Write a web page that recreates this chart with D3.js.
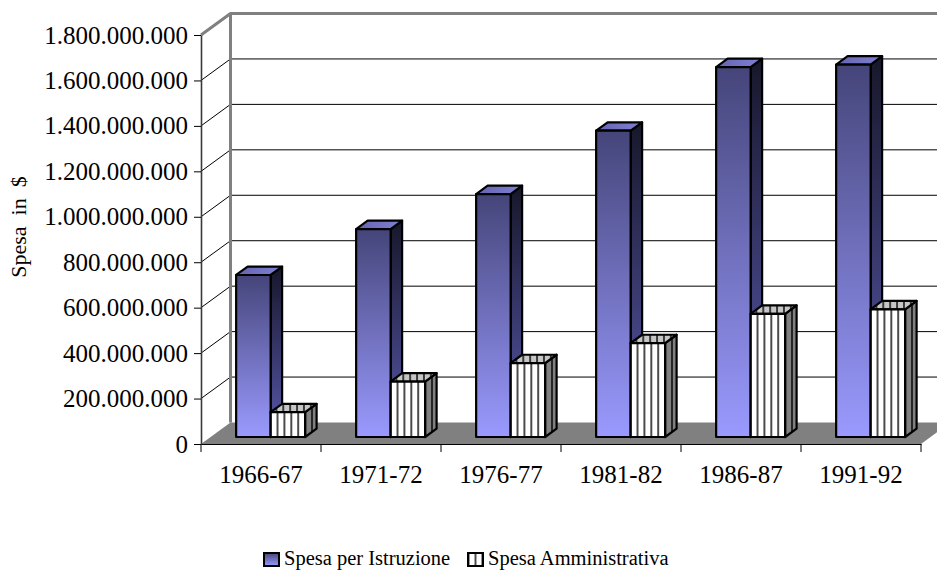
<!DOCTYPE html>
<html>
<head>
<meta charset="utf-8">
<script src="https://cdn.jsdelivr.net/npm/d3@7"></script>
<style>
  html, body { margin: 0; padding: 0; background: #fff; }
  text { font-family: "Liberation Serif", "Times New Roman", serif; fill: #000; }
</style>
</head>
<body>
<svg id="chart" width="937" height="572"></svg>
<script>
// ---- data ----
const categories = ["1966-67", "1971-72", "1976-77", "1981-82", "1986-87", "1991-92"];
const seriesNames = ["Spesa per Istruzione", "Spesa Amministrativa"];
const istruzione = [713e6, 915e6, 1069e6, 1348e6, 1628e6, 1639e6];
const amministrativa = [109e6, 244e6, 325e6, 413e6, 542e6, 562e6];
const yTickValues = [0, 2e8, 4e8, 6e8, 8e8, 1e9, 1.2e9, 1.4e9, 1.6e9, 1.8e9];
const yAxisTitle = "Spesa  in  $";

// ---- layout ----
const svg = d3.select("#chart");
const plotL = 201, plotR = 921, plotT = 35, plotB = 444;
const DX = 29.5, DY = 21.5;          // full depth of the 3-D box
const zFront = 0.326, zBack = 0.716;  // depth span occupied by the bars

const x0 = d3.scaleBand().domain(categories).range([plotL, plotR]).padding(0);
const x1 = d3.scaleBand().domain(seriesNames).range([0, x0.bandwidth()])
  .paddingInner(0).paddingOuter(0.74);
const y = d3.scaleLinear().domain([0, 1.8e9]).range([plotB, plotT]);

const itLocale = d3.formatLocale({ decimal: ",", thousands: ".", grouping: [3], currency: ["", " $"] });
const fmt = itLocale.format(",d");

// ---- defs: gradients and stripe patterns ----
const defs = svg.append("defs");
function vGrad(id, c0, c1) {
  const g = defs.append("linearGradient").attr("id", id)
    .attr("x1", 0).attr("y1", 0).attr("x2", 0).attr("y2", 1);
  g.append("stop").attr("offset", "0%").attr("stop-color", c0);
  g.append("stop").attr("offset", "100%").attr("stop-color", c1);
}
vGrad("blueFront", "#45457a", "#9a9aff");
vGrad("blueSide", "#17172a", "#5858ac");
const tg = defs.append("linearGradient").attr("id", "blueTop")
  .attr("x1", 0).attr("y1", 0).attr("x2", 1).attr("y2", 0);
tg.append("stop").attr("offset", "0%").attr("stop-color", "#6464b0");
tg.append("stop").attr("offset", "100%").attr("stop-color", "#8080d4");

const bw = x1.bandwidth();
const stripeW = bw / 5;
function stripe(id, bg, xOff) {
  const p = defs.append("pattern").attr("id", id)
    .attr("patternUnits", "userSpaceOnUse")
    .attr("x", xOff).attr("y", 0)
    .attr("width", stripeW).attr("height", 10);
  p.append("rect").attr("width", stripeW).attr("height", 10).attr("fill", bg);
  p.append("rect").attr("x", -0.7).attr("width", 1.4).attr("height", 10).attr("fill", "#000");
  p.append("rect").attr("x", stripeW - 0.7).attr("width", 1.4).attr("height", 10).attr("fill", "#000");
}
categories.forEach((c, i) => {
  const bx = x0(c) + x1(seriesNames[1]) + zFront * DX;
  stripe("wFront" + i, "#ffffff", bx);
  stripe("wTop" + i, "#c6c6c6", bx + (zBack - zFront) * DX * 0.5);
  stripe("wSide" + i, "#808080", bx + bw);
});
stripe("wLegend", "#ffffff", 468 + 7.5);

// ---- walls and gridlines ----
const walls = svg.append("g");
const innerTicks = yTickValues.filter(v => v > 0 && v < 1.8e9);
// side wall diagonals
walls.selectAll("line.diag").data(innerTicks).join("line")
  .attr("x1", plotL).attr("y1", d => y(d))
  .attr("x2", plotL + DX).attr("y2", d => y(d) - DY)
  .attr("stroke", "#000").attr("stroke-width", 1);
// back wall horizontals
walls.selectAll("line.grid").data(innerTicks).join("line")
  .attr("x1", plotL + DX).attr("y1", d => y(d) - DY)
  .attr("x2", plotR + DX).attr("y2", d => y(d) - DY)
  .attr("stroke", "#000").attr("stroke-width", 1);

// floor
svg.append("polygon")
  .attr("points", [
    [plotL, y(0)], [plotR, y(0)], [plotR + DX, y(0) - DY], [plotL + DX, y(0) - DY]
  ].map(p => p.join(",")).join(" "))
  .attr("fill", "#808080");

// wall edges
const edge = svg.append("g").attr("stroke", "#808080").attr("stroke-width", 3)
  .attr("fill", "none").attr("stroke-linejoin", "round");
edge.append("path").attr("d", d3.line()([
  [plotL, y(1.8e9)], [plotL + DX, y(1.8e9) - DY], [plotR + DX + 40, y(1.8e9) - DY]
]));
edge.append("line")
  .attr("x1", plotL + DX).attr("y1", y(1.8e9) - DY)
  .attr("x2", plotL + DX).attr("y2", y(0) - DY);

// ---- bars ----
const series = [
  { name: seriesNames[0], values: istruzione, kind: "blue" },
  { name: seriesNames[1], values: amministrativa, kind: "white" }
];
const ddx = (zBack - zFront) * DX, ddy = (zBack - zFront) * DY;
const barsG = svg.append("g").attr("stroke", "#000").attr("stroke-width", 2.2)
  .attr("stroke-linejoin", "round");

categories.forEach((c, i) => {
  series.forEach(s => {
    const v = s.values[i];
    const x = x0(c) + x1(s.name) + zFront * DX;
    const yb = y(0) - zFront * DY;
    const yt = y(v) - zFront * DY;
    const g = barsG.append("g");
    const fills = s.kind === "blue"
      ? { front: "url(#blueFront)", side: "url(#blueSide)", top: "url(#blueTop)" }
      : { front: `url(#wFront${i})`, side: `url(#wSide${i})`, top: `url(#wTop${i})` };
    g.append("polygon")
      .attr("points", [[x + bw, yt], [x + bw + ddx, yt - ddy], [x + bw + ddx, yb - ddy], [x + bw, yb]].join(" "))
      .attr("fill", fills.side);
    g.append("polygon")
      .attr("points", [[x, yt], [x + ddx, yt - ddy], [x + bw + ddx, yt - ddy], [x + bw, yt]].join(" "))
      .attr("fill", fills.top);
    g.append("rect")
      .attr("x", x).attr("y", yt).attr("width", bw).attr("height", yb - yt)
      .attr("fill", fills.front);
  });
});

// ---- axes ----
const yAxis = d3.axisLeft(y).tickValues(yTickValues).tickFormat(fmt)
  .tickSize(7).tickSizeOuter(0).tickPadding(6);
const yg = svg.append("g").attr("transform", `translate(${plotL},0)`).call(yAxis);
yg.select(".domain").attr("stroke", "#3a3a3a").attr("stroke-width", 1.6);
yg.selectAll(".tick line").attr("stroke", "#000");
yg.selectAll(".tick text").style("font-size", "25px")
  .style("font-family", '"Liberation Serif", serif');

const xAxis = d3.axisBottom(x0).tickSize(0).tickPadding(21).tickSizeOuter(0);
const xg = svg.append("g").attr("transform", `translate(0,${y(0)})`).call(xAxis);
xg.select(".domain").attr("stroke", "#000").attr("stroke-width", 1);
xg.selectAll(".tick text").style("font-size", "25px")
  .style("font-family", '"Liberation Serif", serif');
// category boundary ticks
const bounds = categories.map(c => x0(c)).concat([x0.range()[1]]);
xg.selectAll("line.bound").data(bounds).join("line")
  .attr("x1", d => d).attr("x2", d => d).attr("y1", 0).attr("y2", 8)
  .attr("stroke", "#000").attr("stroke-width", 1);

// axis title
svg.append("text")
  .attr("transform", `translate(26,${227}) rotate(-90)`)
  .attr("text-anchor", "middle")
  .attr("xml:space", "preserve")
  .style("white-space", "pre")
  .style("font-size", "22px")
  .text(yAxisTitle);

// ---- legend ----
const legend = svg.append("g");
const legendItems = [
  { name: seriesNames[0], x: 264, fill: "url(#blueFront)" },
  { name: seriesNames[1], x: 468, fill: "url(#wLegend)" }
];
legendItems.forEach(it => {
  legend.append("rect").attr("x", it.x).attr("y", 553).attr("width", 15).attr("height", 13)
    .attr("fill", it.fill).attr("stroke", "#000").attr("stroke-width", 2);
  legend.append("text").attr("x", it.x + 20).attr("y", 565)
    .style("font-size", "20.5px").text(it.name);
});
</script>
</body>
</html>
